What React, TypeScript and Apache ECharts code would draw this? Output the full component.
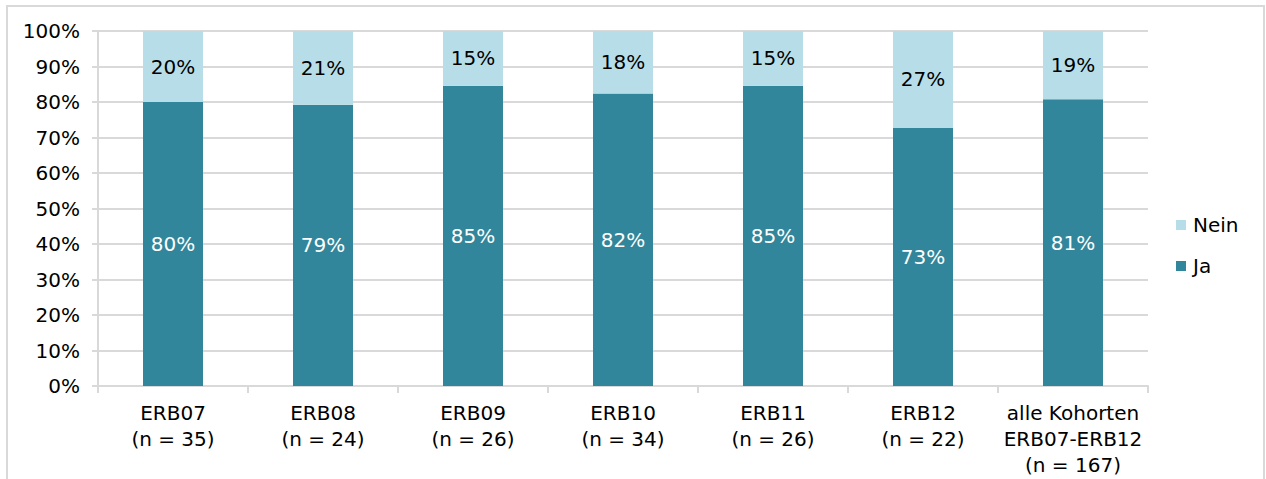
import React, { useEffect, useRef } from "react";
import * as echarts from "echarts";

const categories = [
  "ERB07\n(n = 35)",
  "ERB08\n(n = 24)",
  "ERB09\n(n = 26)",
  "ERB10\n(n = 34)",
  "ERB11\n(n = 26)",
  "ERB12\n(n = 22)",
  "alle Kohorten\nERB07-ERB12\n(n = 167)",
];
const jaValues = [80.0, 79.2, 84.6, 82.4, 84.6, 72.7, 80.8];
const neinValues = [20.0, 20.8, 15.4, 17.6, 15.4, 27.3, 19.2];
const yTicks = [0, 10, 20, 30, 40, 50, 60, 70, 80, 90, 100];

const FONT = "DejaVu Sans";

export default function App() {
  const ref = useRef<HTMLDivElement>(null);
  useEffect(() => {
    if (!ref.current) return;
    const chart = echarts.init(ref.current, undefined, { renderer: "svg" });
    chart.setOption({
      animation: false,
      textStyle: { fontFamily: FONT },
      graphic: [
        {
          type: "rect",
          shape: { x: 7, y: 6, width: 1257, height: 490 },
          style: { fill: "none", stroke: "#d9d9d9", lineWidth: 2 },
          silent: true,
        },
      ],
      grid: { left: 98, right: 118, top: 31, bottom: 93 },
      legend: {
        orient: "vertical",
        left: 1171,
        top: 210,
        data: ["Nein", "Ja"],
        itemWidth: 10,
        itemHeight: 10,
        itemGap: 21,
        icon: "rect",
        textStyle: { fontFamily: FONT, fontSize: 20, color: "#000", padding: [0, 0, 0, 2] },
      },
      xAxis: {
        type: "category",
        data: categories,
        axisLine: { lineStyle: { color: "#d9d9d9", width: 2 } },
        axisTick: { show: true, length: 7, lineStyle: { color: "#d9d9d9", width: 2 } },
        axisLabel: {
          fontFamily: FONT,
          fontSize: 20,
          color: "#000",
          lineHeight: 26,
          margin: 14,
          interval: 0,
        },
      },
      yAxis: {
        type: "value",
        min: 0,
        max: 100,
        interval: 10,
        axisLine: { show: true, lineStyle: { color: "#d9d9d9", width: 2 } },
        axisTick: { show: true, length: 6, lineStyle: { color: "#d9d9d9", width: 2 } },
        splitLine: { show: true, lineStyle: { color: "#d9d9d9", width: 2 } },
        axisLabel: {
          fontFamily: FONT,
          fontSize: 20,
          color: "#000",
          margin: 18,
          formatter: (v: number) => (yTicks.includes(v) ? v + "%" : ""),
        },
      },
      series: [
        {
          name: "Ja",
          type: "bar",
          stack: "s",
          barWidth: 60,
          data: jaValues,
          itemStyle: { color: "#31869b" },
          label: {
            show: true,
            position: "inside",
            color: "#fff",
            fontFamily: FONT,
            fontSize: 20,
            formatter: (p: any) => Math.round(p.value) + "%",
          },
        },
        {
          name: "Nein",
          type: "bar",
          stack: "s",
          barWidth: 60,
          data: neinValues,
          itemStyle: { color: "#b7dee8" },
          label: {
            show: true,
            position: "inside",
            color: "#000",
            fontFamily: FONT,
            fontSize: 20,
            formatter: (p: any) => Math.round(p.value) + "%",
          },
        },
      ],
    });
    return () => chart.dispose();
  }, []);
  return (
    <div
      ref={ref}
      style={{ position: "fixed", left: 0, top: 0, width: 1266, height: 479, background: "#fff" }}
    />
  );
}
